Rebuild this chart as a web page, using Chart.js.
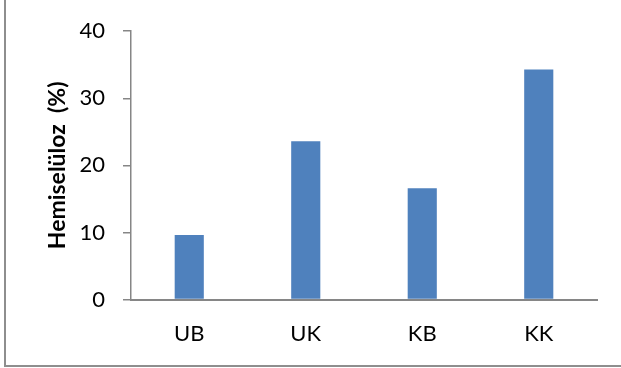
<!DOCTYPE html>
<html>
<head>
<meta charset="utf-8">
<script src="https://cdn.jsdelivr.net/npm/chart.js@4.4.1/dist/chart.umd.min.js"></script>
<style>
  html, body { margin: 0; padding: 0; background: #fff; overflow: hidden; }
  #wrap { position: relative; width: 621px; height: 368px; overflow: hidden; }
  #frame {
    position: absolute; left: 4px; top: -10px; width: 700px; height: 377px;
    box-sizing: border-box; border: 2px solid #8e8e8e;
  }
  canvas { position: absolute; left: 0; top: 0; }
</style>
</head>
<body>
<div id="wrap">
  <div id="frame"></div>
  <canvas id="c" width="621" height="368"></canvas>
</div>
<script>
// Hemicellulose content per sample group
const categories = ['UB', 'UK', 'KB', 'KK'];
const hemicellulose = [9.6, 23.6, 16.6, 34.3];
const yTicks = [0, 10, 20, 30, 40];

const axisColor = '#868686';
const textFont = 'Lato, "Open Sans", sans-serif';

new Chart(document.getElementById('c'), {
  type: 'bar',
  data: {
    labels: categories,
    datasets: [{
      data: hemicellulose,
      backgroundColor: '#4f81bd',
      borderWidth: 0,
      categoryPercentage: 1.0,
      barPercentage: 0.25
    }]
  },
  options: {
    responsive: false,
    animation: false,
    devicePixelRatio: 1,
    layout: { padding: { left: 0, top: 28, right: 24, bottom: 0 } },
    plugins: { legend: { display: false }, tooltip: { enabled: false } },
    scales: {
      x: {
        afterFit: s => { s.height = 68.5; },
        grid: { display: false, drawTicks: false },
        border: { display: true, color: axisColor, width: 2 },
        ticks: { color: '#000', font: { family: textFont, size: 22 }, padding: 21 }
      },
      y: {
        min: 0,
        max: 40,
        afterFit: s => { s.width = 131; },
        afterBuildTicks: s => { s.ticks = yTicks.map(v => ({ value: v })); },
        grid: { drawOnChartArea: false, drawTicks: true, tickLength: 8, color: axisColor, lineWidth: 1.5 },
        border: { display: true, color: axisColor, width: 1.5 },
        ticks: { color: '#000', font: { family: textFont, size: 22 }, padding: 18 },
        title: {
          display: true,
          text: 'Hemiselüloz  (%)',
          color: '#000',
          font: { family: textFont, size: 23, weight: 'bold' },
          padding: { top: 44, bottom: 0 }
        }
      }
    }
  }
});
</script>
</body>
</html>
